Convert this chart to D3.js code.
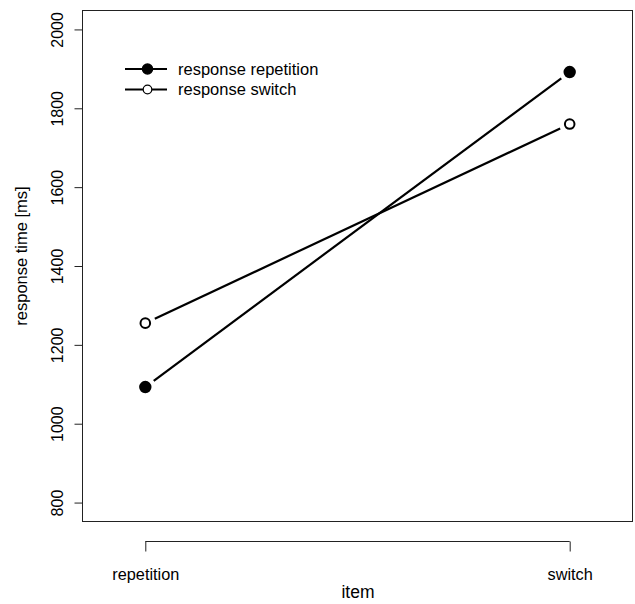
<!DOCTYPE html>
<html>
<head>
<meta charset="utf-8">
<script src="https://cdn.jsdelivr.net/npm/d3@7"></script>
<style>
  body { margin: 0; background: #fff; }
  text { font-family: "Liberation Sans", Arial, sans-serif; fill: #000; }
</style>
</head>
<body>
<div id="chart"></div>
<script>
var width = 635;
var height = 604;

var items = ["repetition", "switch"]
var seriesNames = ["response repetition", "response switch"]
var repetitionValues = [1093, 1892]
var switchValues = [1255, 1760]
var yTicks = [800, 1000, 1200, 1400, 1600, 1800, 2000]

var box = {left: 82.5, right: 632.5, top: 10.5, bottom: 521.5}
var gap = 10.5  // R type="b": segments stop short of the points

var svg = d3.select("#chart").append("svg")
    .attr("width", width)
    .attr("height", height);

var x = d3.scaleLinear().domain([0.852, 2.148]).range([box.left, box.right]);
var y = d3.scaleLinear().domain([752, 2048]).range([box.bottom, box.top]);

// plot frame
svg.append("rect")
    .attr("x", box.left).attr("y", box.top)
    .attr("width", box.right - box.left).attr("height", box.bottom - box.top)
    .attr("fill", "none").attr("stroke", "#222").attr("stroke-width", 1);

// y axis
var yAxis = svg.append("g")
    .attr("transform", "translate(" + box.left + ",0)")
    .call(d3.axisLeft(y).tickValues(yTicks).tickSize(8).tickFormat(d3.format("d")));
yAxis.select(".domain").remove();
yAxis.selectAll(".tick line").attr("stroke", "#222");
yAxis.selectAll(".tick text")
    .attr("transform", "rotate(-90)")
    .attr("x", 0).attr("y", -19.5)
    .attr("dy", 0)
    .style("text-anchor", "middle")
    .style("font-size", "16px")
    .style("font-family", "Liberation Sans, Arial, sans-serif");

// x axis
var xAxis = svg.append("g")
    .attr("transform", "translate(0,541.5)")
    .call(d3.axisBottom(x).tickValues([1, 2]).tickSize(10).tickSizeOuter(0)
      .tickFormat(function(d){ return items[d - 1] }));
xAxis.select(".domain").attr("stroke", "#222").attr("d", "M" + x(1) + ",0H" + x(2));
xAxis.selectAll(".tick line").attr("stroke", "#222");
xAxis.selectAll(".tick text")
    .attr("y", 38.5).attr("dy", 0)
    .style("font-size", "16.3px")
    .style("font-family", "Liberation Sans, Arial, sans-serif");

// axis titles
svg.append("text")
    .attr("x", 358)
    .attr("y", 598)
    .attr("text-anchor", "middle")
    .style("font-size", "17.5px")
    .text("item");

svg.append("text")
    .attr("transform", "translate(27,256) rotate(-90)")
    .attr("text-anchor", "middle")
    .style("font-size", "16.5px")
    .text("response time [ms]");

// data lines and points
var series = [
  {name: seriesNames[0], values: repetitionValues, fill: "#000"},
  {name: seriesNames[1], values: switchValues, fill: "#fff"}
];

series.forEach(function(s) {
  var x0 = x(1), y0 = y(s.values[0]), x1 = x(2), y1 = y(s.values[1]);
  var len = Math.sqrt((x1 - x0) * (x1 - x0) + (y1 - y0) * (y1 - y0));
  var ux = (x1 - x0) / len, uy = (y1 - y0) / len;
  svg.append("line")
      .attr("x1", x0 + ux * gap).attr("y1", y0 + uy * gap)
      .attr("x2", x1 - ux * gap).attr("y2", y1 - uy * gap)
      .attr("stroke", "#000")
      .attr("stroke-width", 2.2);
});

series.forEach(function(s) {
  svg.selectAll(null).data(s.values).enter()
      .append("circle")
      .attr("cx", function(d, i){ return x(i + 1) })
      .attr("cy", function(d){ return y(d) })
      .attr("r", s.fill == "#000" ? 5.2 : 4.8)
      .attr("fill", s.fill)
      .attr("stroke", "#000")
      .attr("stroke-width", 2);
});

// legend
var legend = svg.append("g");
series.forEach(function(s, k) {
  var ly = 69 + k * 20.5;
  legend.append("line")
      .attr("x1", 125).attr("x2", 167)
      .attr("y1", ly).attr("y2", ly)
      .attr("stroke", "#000").attr("stroke-width", 2.2);
  legend.append("circle")
      .attr("cx", 147.5).attr("cy", ly)
      .attr("r", s.fill == "#000" ? 5 : 4.3)
      .attr("fill", s.fill)
      .attr("stroke", "#000")
      .attr("stroke-width", s.fill == "#000" ? 1.5 : 1.2);
  legend.append("text")
      .attr("x", 178).attr("y", ly)
      .attr("dy", "0.35em")
      .style("font-size", "16.5px")
      .text(s.name);
});
</script>
</body>
</html>
